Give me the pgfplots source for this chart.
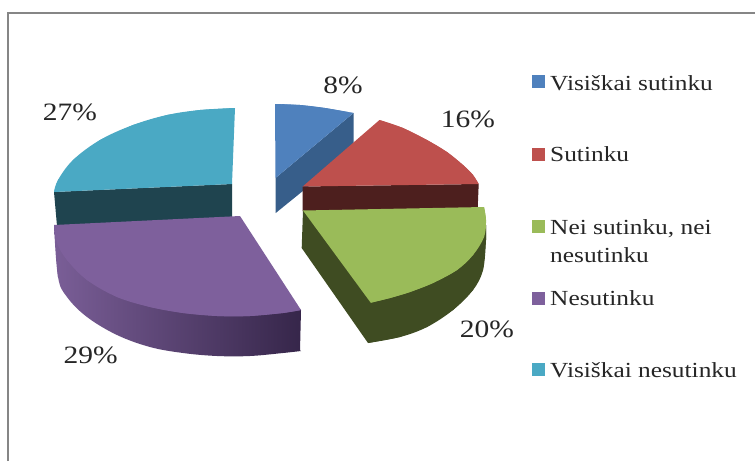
\documentclass[border=0pt]{standalone}
\usepackage{pgfplots}
\pgfplotsset{compat=1.18}
\usepackage{fontspec}
\setmainfont[FakeStretch=1.18]{Liberation Serif}
\definecolor{cBlue}{HTML}{4F81BD}
\definecolor{cBlueD}{HTML}{375E8A}
\definecolor{cRed}{HTML}{BE504D}
\definecolor{cRedD}{HTML}{4D1F1E}
\definecolor{cGreen}{HTML}{9ABB59}
\definecolor{cGreenD}{HTML}{3F4C22}
\definecolor{cPurple}{HTML}{7E609C}
\definecolor{cPurpleL}{HTML}{7A5E97}
\definecolor{cPurpleD}{HTML}{36264A}
\definecolor{cCyan}{HTML}{4AA9C4}
\definecolor{cCyanD}{HTML}{1F444F}
\definecolor{cFrame}{HTML}{868686}
\newcommand{\lab}[1]{\fontsize{25}{25}\selectfont #1}
\newcommand{\leg}[1]{\fontsize{21.5}{21.5}\selectfont #1}
\begin{document}
\begin{tikzpicture}
\begin{axis}[
  width=755pt,height=461pt,scale only axis,
  xmin=0,xmax=755,ymin=0,ymax=461,y dir=reverse,
  hide axis,clip=true,
  arcfill/.style={draw=none,fill=#1,smooth,tension=0.6},
]
% page extent
\addplot[draw=none,fill=white] coordinates {(0,0)(755,0)(755,461)(0,461)} -- cycle;
% frame
\addplot[cFrame,line width=2pt] coordinates {(8,461)(8,13)(755,13)};
% cyan 27%
\addplot[draw=none,fill=cCyanD] coordinates {(54,192)(232,184)(232,217)(57,226)} -- cycle;
\addplot[draw=none,fill=cCyan] coordinates {(232,184)(54,192)(58,180)(73,160)(100,140)(133,125)(167,115)(200,110)(235,108)} -- cycle;
\addplot[arcfill=cCyan] coordinates {(54,192)(58,180)(73,160)(100,140)(133,125)(167,115)(200,110)(235,108)} -- cycle;
% purple 29%: side, shaded from left to right
\addplot[draw=none,left color=cPurpleL,right color=cPurpleD] coordinates {(54,225)(301,310)(300,351)(58,277)} -- cycle;
\addplot[draw=none,left color=cPurpleL,right color=cPurpleD,smooth,tension=0.6] coordinates {(54,225)(58,277)(67,297)(87,317)(117,335)(150,347)(183,353)(217,356)(250,356)(283,353)(301,351)} -- cycle;
\addplot[draw=none,fill=cPurple] coordinates {(240,216)(54,225)(57,243)(67,260)(87,280)(117,297)(150,307)(183,313)(217,316)(250,316)(283,313)(301,310)} -- cycle;
\addplot[arcfill=cPurple] coordinates {(54,225)(57,243)(67,260)(87,280)(117,297)(150,307)(183,313)(217,316)(250,316)(283,313)(301,310)} -- cycle;
% blue 8%
\addplot[draw=none,fill=cBlueD] coordinates {(275.5,178)(353.5,113)(353.5,150)(275.7,213)} -- cycle;
\addplot[draw=none,fill=cBlue] coordinates {(275.5,178)(275,104)(300,105)(325,108)(353.5,113)} -- cycle;
\addplot[arcfill=cBlue] coordinates {(275,104)(300,105)(325,108)(353.5,113)} -- cycle;
% red 16%
\addplot[draw=none,fill=cRedD] coordinates {(302.7,186.5)(478.7,184)(477.7,208)(302.5,211)} -- cycle;
\addplot[draw=none,fill=cRed] coordinates {(302.7,186.5)(379.5,120)(403,128)(427,140)(447,152)(463,165)(473,175)(478.7,184)} -- cycle;
\addplot[arcfill=cRed] coordinates {(379.5,120)(403,128)(427,140)(447,152)(463,165)(473,175)(478.7,184)} -- cycle;
% green 20%
\addplot[draw=none,fill=cGreenD] coordinates {(303,210.5)(301.7,248)(368,343)(400,337)(427,327)(453,310)(473,290)(483,270)(486,240)(486,225)} -- cycle;
\addplot[arcfill=cGreenD] coordinates {(368,343)(400,337)(427,327)(453,310)(473,290)(483,270)(486,240)(486,225)} -- cycle;
\addplot[draw=none,fill=cGreen] coordinates {(303,210.5)(484,207)(486,220)(484,237)(473,255)(457,270)(433,283)(410,292)(390,298)(370.7,302.7)} -- cycle;
\addplot[arcfill=cGreen] coordinates {(484,207)(486,220)(484,237)(473,255)(457,270)(433,283)(410,292)(390,298)(370.7,302.7)} -- cycle;
% legend keys
\addplot[draw=none,fill=cBlue] coordinates {(532,75)(545,75)(545,88)(532,88)} -- cycle;
\addplot[draw=none,fill=cRed] coordinates {(532,147.5)(545,147.5)(545,160.5)(532,160.5)} -- cycle;
\addplot[draw=none,fill=cGreen] coordinates {(532,219.5)(545,219.5)(545,232.5)(532,232.5)} -- cycle;
\addplot[draw=none,fill=cPurple] coordinates {(532,291.5)(545,291.5)(545,304.5)(532,304.5)} -- cycle;
\addplot[draw=none,fill=cCyan] coordinates {(532,363)(545,363)(545,376)(532,376)} -- cycle;
% labels
\node[text=black!85] at (axis cs:343,85) {\lab{8\%}};
\node[text=black!85] at (axis cs:468,119) {\lab{16\%}};
\node[text=black!85] at (axis cs:487,329) {\lab{20\%}};
\node[text=black!85] at (axis cs:90.7,355) {\lab{29\%}};
\node[text=black!85] at (axis cs:70,112) {\lab{27\%}};
% legend text
\node[anchor=base west,inner sep=0pt,text=black!85] at (axis cs:550,90) {\leg{Visiškai sutinku}};
\node[anchor=base west,inner sep=0pt,text=black!85] at (axis cs:550,161.7) {\leg{Sutinku}};
\node[anchor=base west,inner sep=0pt,text=black!85] at (axis cs:550,234) {\leg{Nei sutinku, nei}};
\node[anchor=base west,inner sep=0pt,text=black!85] at (axis cs:550,262) {\leg{nesutinku}};
\node[anchor=base west,inner sep=0pt,text=black!85] at (axis cs:550,305.7) {\leg{Nesutinku}};
\node[anchor=base west,inner sep=0pt,text=black!85] at (axis cs:550,377.7) {\leg{Visiškai nesutinku}};
\end{axis}
\end{tikzpicture}
\end{document}
